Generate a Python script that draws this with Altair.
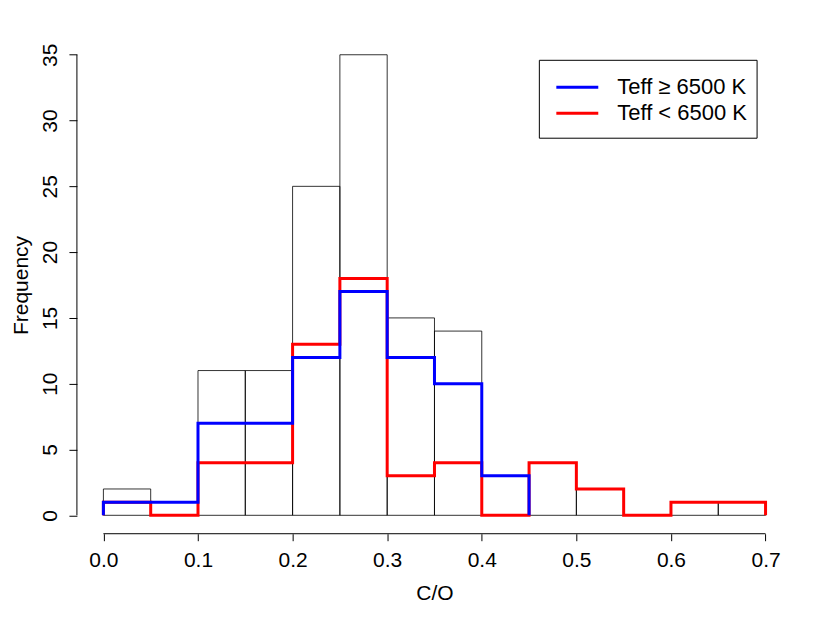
import altair as alt
import pandas as pd

# ---- data ----
bin_edges = [0.00, 0.05, 0.10, 0.15, 0.20, 0.25, 0.30, 0.35, 0.40, 0.45,
             0.50, 0.55, 0.60, 0.65, 0.70]
total_counts = [2, 1, 11, 11, 25, 35, 15, 14, 3, 4, 2, 0, 1, 1]
hot_counts = [1, 1, 7, 7, 12, 17, 12, 10, 3]            # Teff >= 6500 K
cool_counts = [1, 0, 4, 4, 13, 18, 3, 4, 0, 4, 2, 0, 1, 1]  # Teff < 6500 K
series_labels = ["Teff \u2265 6500 K", "Teff < 6500 K"]
series_colors = ["#0000FF", "#FF0000"]
x_ticks = [0.0, 0.1, 0.2, 0.3, 0.4, 0.5, 0.6, 0.7]
y_ticks = [0, 5, 10, 15, 20, 25, 30, 35]

FONT = "Liberation Sans"
FS = 21
W, H = 716, 498
x_dom = [-0.028, 0.728]
y_dom = [-1.4, 36.4]

bars = pd.DataFrame({
    "left": bin_edges[:-1],
    "right": bin_edges[1:],
    "count": total_counts,
    "zero": [0] * len(total_counts),
})


def step_path(counts):
    xs, ys = [bin_edges[0]], [0]
    for i, c in enumerate(counts):
        xs += [bin_edges[i], bin_edges[i + 1]]
        ys += [c, c]
    xs.append(bin_edges[len(counts)])
    ys.append(0)
    return pd.DataFrame({"x": xs, "y": ys, "i": list(range(len(xs)))})


xscale = alt.Scale(domain=x_dom, nice=False, zero=False)
yscale = alt.Scale(domain=y_dom, nice=False, zero=False)

xaxis = alt.Axis(values=x_ticks, format=".1f", domain=False, grid=False,
                 tickSize=7, tickColor="black", tickWidth=1,
                 labelFont=FONT, labelFontSize=FS, labelColor="black",
                 labelPadding=9, labelFlush=False,
                 title="C/O", titleFont=FONT, titleFontSize=FS,
                 titleFontWeight="normal", titleColor="black", titlePadding=12)
yaxis = alt.Axis(values=y_ticks, domain=False, grid=False,
                 tickSize=8, tickColor="black", tickWidth=1,
                 labelFont=FONT, labelFontSize=FS, labelColor="black",
                 labelAngle=270, labelAlign="center", labelBaseline="bottom",
                 labelPadding=8, labelFlush=False,
                 title="Frequency", titleFont=FONT, titleFontSize=FS,
                 titleFontWeight="normal", titleColor="black", titlePadding=8)

hist = alt.Chart(bars).mark_rect(fillOpacity=0, stroke="black", strokeWidth=0.8).encode(
    x=alt.X("left:Q", scale=xscale, axis=xaxis),
    x2="right:Q",
    y=alt.Y("zero:Q", scale=yscale, axis=yaxis),
    y2="count:Q",
)

cool_line = alt.Chart(step_path(cool_counts)).mark_line(
    color=series_colors[1], strokeWidth=3).encode(
    x=alt.X("x:Q", scale=xscale), y=alt.Y("y:Q", scale=yscale), order="i:Q")
hot_line = alt.Chart(step_path(hot_counts)).mark_line(
    color=series_colors[0], strokeWidth=3).encode(
    x=alt.X("x:Q", scale=xscale), y=alt.Y("y:Q", scale=yscale), order="i:Q")

# R-style axis lines spanning first to last tick
xline = alt.Chart(pd.DataFrame({"a": [x_ticks[0]], "b": [x_ticks[-1]]})).mark_rule(
    color="black", strokeWidth=1).encode(
    x=alt.X("a:Q", scale=xscale), x2="b:Q", y=alt.value(H))
yline = alt.Chart(pd.DataFrame({"a": [y_ticks[0]], "b": [y_ticks[-1]]})).mark_rule(
    color="black", strokeWidth=1).encode(
    y=alt.Y("a:Q", scale=yscale), y2="b:Q", x=alt.value(0))

# legend box
one = pd.DataFrame({"k": [0]})
lbox = alt.Chart(one).mark_rect(fillOpacity=0, stroke="black", strokeWidth=1).encode(
    x=alt.value(463), x2=alt.value(681), y=alt.value(24), y2=alt.value(102))

legend_layers = []
for j, (lab, col) in enumerate(zip(series_labels, series_colors)):
    yy = 51 + 26 * j
    df = pd.DataFrame({"label": [lab]})
    legend_layers.append(alt.Chart(df).mark_rule(color=col, strokeWidth=3).encode(
        x=alt.value(480), x2=alt.value(522), y=alt.value(yy)))
    legend_layers.append(alt.Chart(df).mark_text(
        align="left", baseline="middle", font=FONT, fontSize=22, color="black").encode(
        x=alt.value(541), y=alt.value(yy), text="label:N"))

chart = alt.layer(hist, cool_line, hot_line, xline, yline, lbox, *legend_layers).properties(
    width=W, height=H,
    autosize=alt.AutoSizeParams(type="none"),
    padding={"left": 69, "top": 28, "right": 30, "bottom": 70},
).configure_view(stroke=None)

chart.save("out.html", embed_options={"renderer": "svg", "actions": False})
